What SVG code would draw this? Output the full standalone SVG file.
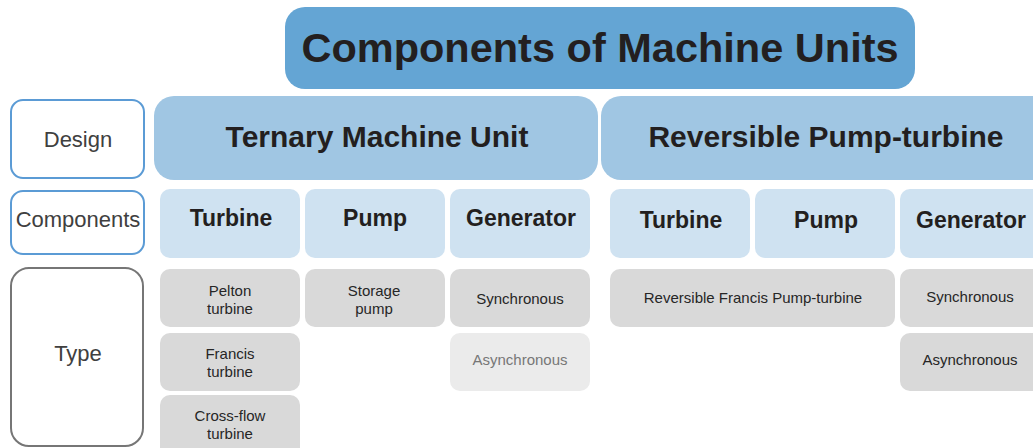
<svg xmlns="http://www.w3.org/2000/svg" width="1033" height="448" viewBox="0 0 1033 448">
  <style>
    text { font-family: "Liberation Sans", Arial, sans-serif; text-anchor: middle; dominant-baseline: central; }
    .title { fill: #64a5d4; }
    .design { fill: #a0c6e3; }
    .comp { fill: #cfe2f1; }
    .type { fill: #d9d9d9; }
    .faint { fill: #ebebeb; }
    .label-blue { fill: #ffffff; stroke: #5b9bd5; stroke-width: 2; }
    .label-gray { fill: #ffffff; stroke: #767676; stroke-width: 2; }
    .t-title { font-size: 41.5px; font-weight: bold; fill: #231f20; }
    .t-design { font-size: 30px; font-weight: bold; fill: #231f20; }
    .t-comp { font-size: 23px; font-weight: bold; fill: #231f20; }
    .t-side { font-size: 22px; fill: #404040; }
    .t-type { font-size: 15px; fill: #262626; }
    .t-faint { font-size: 15px; fill: #777777; }
  </style>

  <g id="title">
    <rect class="title" x="285" y="7" width="630" height="82" rx="20"/>
    <text class="t-title" x="600" y="47">Components of Machine Units</text>
  </g>

  <g id="row-labels">
    <g id="label-design">
      <rect class="label-blue" x="11" y="100" width="133" height="78" rx="12"/>
      <text class="t-side" x="78" y="139">Design</text>
    </g>
    <g id="label-components">
      <rect class="label-blue" x="11" y="191" width="133" height="63" rx="12"/>
      <text class="t-side" x="78" y="219">Components</text>
    </g>
    <g id="label-type">
      <rect class="label-gray" x="11" y="268" width="132" height="178" rx="18"/>
      <text class="t-side" x="78" y="353">Type</text>
    </g>
  </g>

  <g id="design-ternary">
    <rect class="design" x="154" y="96" width="444" height="84" rx="20"/>
    <text class="t-design" x="377" y="136">Ternary Machine Unit</text>
  </g>
  <g id="design-reversible">
    <rect class="design" x="601" y="96" width="460" height="84" rx="20"/>
    <text class="t-design" x="826" y="136">Reversible Pump-turbine</text>
  </g>

  <g id="ternary-turbine">
    <rect class="comp" x="160" y="189" width="140" height="69" rx="10"/>
    <text class="t-comp" x="231" y="218">Turbine</text>
  </g>
  <g id="ternary-pump">
    <rect class="comp" x="305" y="189" width="140" height="69" rx="10"/>
    <text class="t-comp" x="375" y="218">Pump</text>
  </g>
  <g id="ternary-generator">
    <rect class="comp" x="450" y="189" width="140" height="69" rx="10"/>
    <text class="t-comp" x="521" y="218">Generator</text>
  </g>
  <g id="reversible-turbine">
    <rect class="comp" x="610" y="189" width="140" height="69" rx="10"/>
    <text class="t-comp" x="681" y="220">Turbine</text>
  </g>
  <g id="reversible-pump">
    <rect class="comp" x="755" y="189" width="140" height="69" rx="10"/>
    <text class="t-comp" x="826" y="220">Pump</text>
  </g>
  <g id="reversible-generator">
    <rect class="comp" x="900" y="189" width="150" height="69" rx="10"/>
    <text class="t-comp" x="971" y="220">Generator</text>
  </g>

  <g id="pelton">
    <rect class="type" x="160" y="269" width="140" height="58" rx="10"/>
    <text class="t-type" x="230" y="290">Pelton</text>
    <text class="t-type" x="230" y="308">turbine</text>
  </g>
  <g id="francis">
    <rect class="type" x="160" y="333" width="140" height="58" rx="10"/>
    <text class="t-type" x="230" y="353">Francis</text>
    <text class="t-type" x="230" y="371">turbine</text>
  </g>
  <g id="cross-flow">
    <rect class="type" x="160" y="395" width="140" height="70" rx="10"/>
    <text class="t-type" x="230" y="415">Cross-flow</text>
    <text class="t-type" x="230" y="433">turbine</text>
  </g>
  <g id="storage-pump">
    <rect class="type" x="305" y="269" width="140" height="58" rx="10"/>
    <text class="t-type" x="374" y="290">Storage</text>
    <text class="t-type" x="374" y="308">pump</text>
  </g>
  <g id="ternary-synchronous">
    <rect class="type" x="450" y="269" width="140" height="58" rx="10"/>
    <text class="t-type" x="520" y="298">Synchronous</text>
  </g>
  <g id="ternary-asynchronous">
    <rect class="faint" x="450" y="333" width="140" height="58" rx="10"/>
    <text class="t-faint" x="520" y="359">Asynchronous</text>
  </g>
  <g id="reversible-francis">
    <rect class="type" x="610" y="269" width="285" height="58" rx="10"/>
    <text class="t-type" x="753" y="297">Reversible Francis Pump-turbine</text>
  </g>
  <g id="reversible-synchronous">
    <rect class="type" x="900" y="269" width="150" height="58" rx="10"/>
    <text class="t-type" x="970" y="296">Synchronous</text>
  </g>
  <g id="reversible-asynchronous">
    <rect class="type" x="900" y="333" width="150" height="58" rx="10"/>
    <text class="t-type" x="970" y="359">Asynchronous</text>
  </g>

  <g id="connectors"/>
</svg>
